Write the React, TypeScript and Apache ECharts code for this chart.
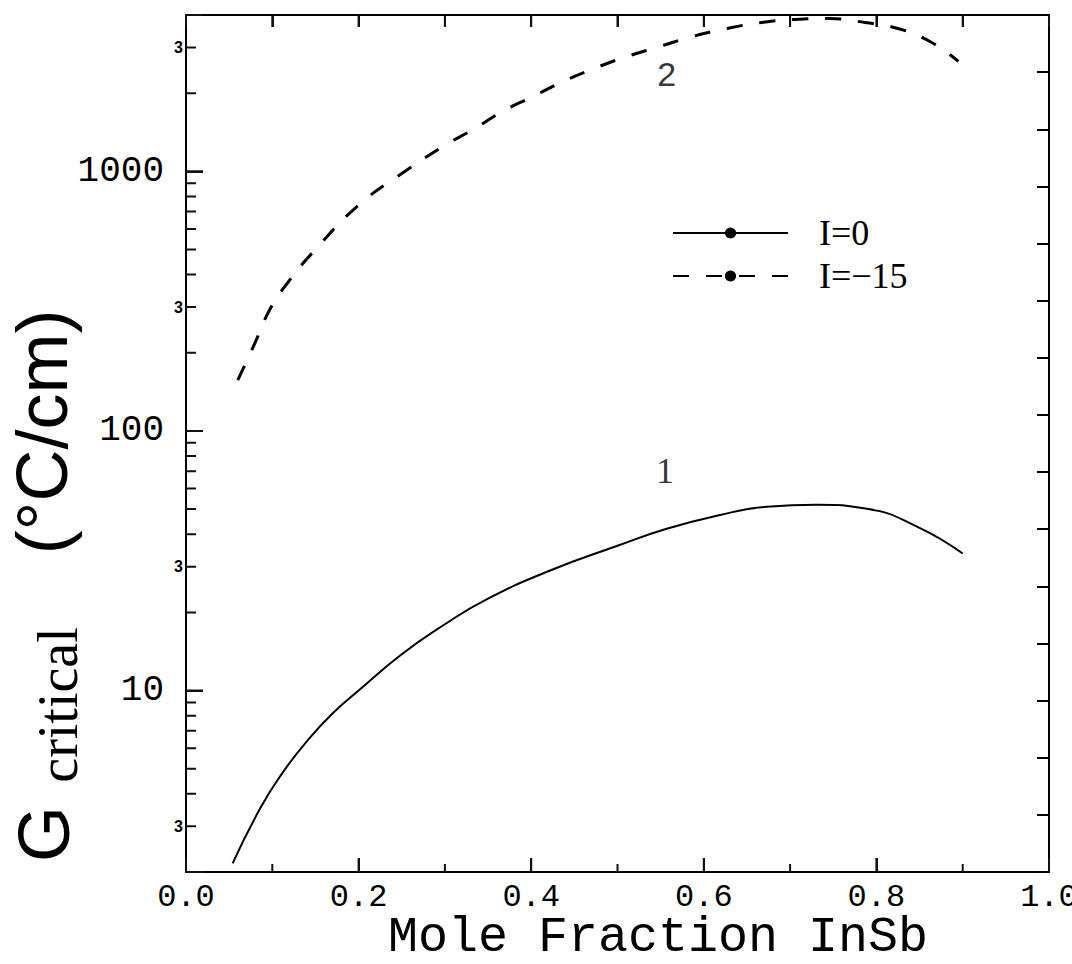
import React, { useEffect, useRef } from 'react';
import * as echarts from 'echarts';

// Curve 1: I = 0 (solid)
const xSolid = [0.054, 0.086, 0.112, 0.14, 0.17, 0.2, 0.25, 0.3, 0.35, 0.422, 0.5, 0.557, 0.615, 0.673, 0.731, 0.789, 0.847, 0.9];
const ySolid = [2.16, 3.52, 4.83, 6.37, 8.17, 10.0, 13.8, 18.0, 22.6, 29.0, 36.1, 42.0, 47.1, 51.0, 51.9, 50.1, 42.8, 33.7];

// Curve 2: I = -15 (dashed)
const xDashed = [0.06, 0.078, 0.097, 0.118, 0.15, 0.2, 0.25, 0.298, 0.333, 0.367, 0.402, 0.437, 0.476, 0.511, 0.549, 0.587, 0.627, 0.667, 0.706, 0.746, 0.787, 0.825, 0.862, 0.895];
const yDashed = [157, 211, 293, 373, 500, 740, 980, 1248, 1452, 1702, 1942, 2218, 2512, 2768, 3025, 3305, 3548, 3741, 3846, 3875, 3741, 3548, 3163, 2650];

// Axis ticks / labels
const yMajorTicks = [10, 100, 1000];
const yMinorTicks = [2, 3, 4, 5, 6, 7, 8, 9, 20, 30, 40, 50, 60, 70, 80, 90, 200, 300, 400, 500, 600, 700, 800, 900, 2000, 3000];
const yThreeLabels = [3, 30, 300, 3000];
const xMajorTicks = [0.2, 0.4, 0.6, 0.8];
const xMinorTicks = [0.1, 0.3, 0.5, 0.7, 0.9];
const xTopTicks = [0.1, 0.2, 0.3, 0.4, 0.5, 0.6, 0.7, 0.8, 0.9];

const curveLabels = [
  { name: '1', x: 0.555, y: 70 },
  { name: '2', x: 0.557, y: 2360 },
];

const legendNames = ['I=0', 'I=−15'];

export default function App() {
  const ref = useRef<HTMLDivElement>(null);
  useEffect(() => {
    if (!ref.current) return;
    const chart = echarts.init(ref.current, undefined, { renderer: 'svg' });
    const black = '#000';
    const tickColor = '#111';
    const yMin = 2, yMax = 4000;
    // tick lengths in pixels converted to axis units: plot is 863px wide and 259.6px per decade
    const pxX = 1 / 863, pxDecade = 259.6;
    const hTicks = (vals: number[], lenPx: number) =>
      vals.flatMap((v) => [[0, v], [lenPx * pxX, v], ['-', '-']]);
    const vTicksBottom = (vals: number[], lenPx: number) =>
      vals.flatMap((v) => [[v, yMin], [v, yMin * Math.pow(10, lenPx / pxDecade)], ['-', '-']]);
    const vTicksTop = (vals: number[], lenPx: number) =>
      vals.flatMap((v) => [[v, yMax], [v, yMax / Math.pow(10, lenPx / pxDecade)], ['-', '-']]);
    const tickSeries = (name: string, data: any[]) => ({
      name, type: 'line', xAxisIndex: 0, yAxisIndex: 0, data,
      showSymbol: false, symbol: 'none', silent: true, clip: false, connectNulls: false,
      lineStyle: { color: tickColor, width: 2 }, z: 3,
    });

    chart.setOption({
      animation: false,
      backgroundColor: '#fff',
      grid: { left: 186, right: 23, top: 15, bottom: 92, containLabel: false, outerBoundsMode: 'none' },
      legend: {
        show: true, orient: 'vertical', left: 667, top: 210, itemWidth: 115, itemHeight: 14, itemGap: 7,
        selectedMode: false, data: legendNames,
        textStyle: { color: black, fontFamily: 'Liberation Serif', fontSize: 36, padding: [0, 0, 0, 26] },
      },
      xAxis: [
        {
          type: 'value', min: 0, max: 1, interval: 0.2, position: 'bottom',
          axisLine: { show: true, onZero: false, lineStyle: { color: black, width: 2 } },
          axisTick: { show: true, inside: true, length: 14, lineStyle: { color: tickColor, width: 2 } },
          axisLabel: { color: black, fontFamily: 'Liberation Mono', fontSize: 32, margin: 9, formatter: (v: number) => v.toFixed(1) },
          splitLine: { show: false },
        },
        {
          type: 'value', min: 0, max: 1, interval: 0.1, position: 'top',
          axisLine: { show: true, onZero: false, lineStyle: { color: black, width: 2 } },
          axisTick: { show: true, inside: true, length: 12, lineStyle: { color: tickColor, width: 2 } },
          axisLabel: { show: false },
          splitLine: { show: false },
        },
      ],
      yAxis: [
        {
          type: 'log', min: yMin, max: yMax, position: 'left',
          axisLine: { show: true, onZero: false, lineStyle: { color: black, width: 2 } },
          axisTick: { show: true, inside: true, length: 17, lineStyle: { color: tickColor, width: 2 } },
          axisLabel: { customValues: yMajorTicks, color: black, fontFamily: 'Liberation Mono', fontSize: 36, margin: 22, formatter: (v: number) => String(Math.round(v)) },
          splitLine: { show: false },
        },
        {
          type: 'log', min: yMin, max: yMax, position: 'left', offset: 0,
          axisLine: { show: false },
          axisTick: { show: false },
          axisLabel: { customValues: yThreeLabels, color: black, fontWeight: 'bold', fontSize: 16, margin: 3, formatter: () => '3' },
          splitLine: { show: false },
        },
        {
          type: 'value', min: 0, max: 15, interval: 1, position: 'right',
          axisLine: { show: true, onZero: false, lineStyle: { color: black, width: 2 } },
          axisTick: { show: true, inside: true, length: 12, lineStyle: { color: black, width: 2 } },
          axisLabel: { show: false },
          splitLine: { show: false },
        },
      ],
      series: [
        {
          name: legendNames[0], type: 'line', data: xSolid.map((x, i) => [x, ySolid[i]]),
          showSymbol: false, symbol: 'none', smooth: 0.5,
          lineStyle: { color: black, width: 2 }, itemStyle: { color: black },
        },
        {
          name: legendNames[1], type: 'line', data: xDashed.map((x, i) => [x, yDashed[i]]),
          showSymbol: false, symbol: 'none', smooth: 0.5,
          lineStyle: { color: black, width: 3, type: [16, 17] }, itemStyle: { color: black },
        },
        {
          name: 'curve labels', type: 'scatter', silent: true,
          symbol: 'rect', symbolSize: 1, itemStyle: { color: 'rgba(0,0,0,0)' },
          data: curveLabels.map((c, i) => ({
            value: [c.x, c.y],
            label: {
              show: true, position: 'inside', color: black, formatter: c.name,
              fontSize: i === 0 ? 36 : 34, fontFamily: i === 0 ? 'Liberation Serif' : 'Liberation Sans',
            },
          })),
        },
        tickSeries('yMajor', hTicks(yMajorTicks, 17)),
        tickSeries('yMinor', hTicks(yMinorTicks, 10)),
        tickSeries('xMajor', vTicksBottom(xMajorTicks, 14)),
        tickSeries('xMinor', vTicksBottom(xMinorTicks, 8)),
        tickSeries('xTop', vTicksTop(xTopTicks, 12)),
      ],
      graphic: [
        { type: 'text', x: 658, y: 937, style: { text: 'Mole Fraction InSb', fill: black, fontSize: 50, fontFamily: 'Liberation Mono', align: 'center', verticalAlign: 'middle' } },
        { type: 'text', x: 44, y: 834, rotation: Math.PI / 2, style: { text: 'G', fill: black, fontSize: 72, fontFamily: 'Liberation Sans', align: 'center', verticalAlign: 'middle' } },
        { type: 'text', x: 58, y: 705, rotation: Math.PI / 2, style: { text: 'critical', fill: black, fontSize: 56, fontFamily: 'Liberation Serif', align: 'center', verticalAlign: 'middle' } },
        { type: 'text', x: 42, y: 432, rotation: Math.PI / 2, style: { text: '(°C/cm)', fill: black, fontSize: 72, fontFamily: 'Liberation Sans', align: 'center', verticalAlign: 'middle' } },
      ],
    } as any);
    return () => chart.dispose();
  }, []);
  return (
    <div
      ref={ref}
      style={{ position: 'fixed', left: 0, top: 0, width: 1072, height: 964, background: '#fff' }}
    />
  );
}
